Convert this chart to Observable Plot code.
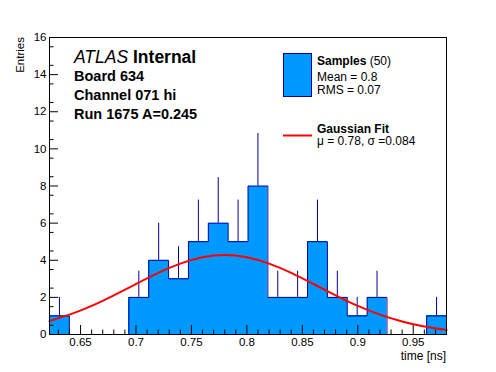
<!DOCTYPE html>
<html>
<head>
<meta charset="utf-8">
<script src="https://cdn.jsdelivr.net/npm/d3@7"></script>
<script src="https://cdn.jsdelivr.net/npm/@observablehq/plot@0.6"></script>
<style>
  html, body { margin: 0; padding: 0; background: #fff; }
  #chart svg { display: block; }
</style>
</head>
<body>
<div id="chart"></div>
<script>
// ---------- data ----------
const xMin = 0.622, xMax = 0.980, nBins = 20;
const counts = [1, 0, 0, 0, 2, 4, 3, 5, 6, 5, 8, 2, 2, 5, 2, 1, 2, 0, 0, 1];
const errors = [1, 0, 0, 0, 1.41, 2, 1.73, 2.24, 2.45, 2.24, 2.83, 1.41, 1.41, 2.24, 1.41, 1, 1.41, 0, 0, 1];
const fitX = [0.622, 0.64, 0.66, 0.68, 0.70, 0.72, 0.74, 0.76, 0.78, 0.80, 0.82, 0.84, 0.86, 0.88, 0.90, 0.92, 0.94, 0.96, 0.98];
const fitY = [0.73, 1.07, 1.54, 2.11, 2.72, 3.32, 3.82, 4.16, 4.28, 4.16, 3.82, 3.32, 2.72, 2.11, 1.54, 1.07, 0.70, 0.43, 0.25];
const majorX = [0.65, 0.7, 0.75, 0.8, 0.85, 0.9, 0.95];
const majorXLabels = ["0.65", "0.7", "0.75", "0.8", "0.85", "0.9", "0.95"];
const majorY = [0, 2, 4, 6, 8, 10, 12, 14, 16];
const annotations = ["Board 634", "Channel 071 hi", "Run 1675 A=0.245"];
const legendSamples = ["Mean = 0.8", "RMS = 0.07"];
const legendFit = "\u03bc = 0.78, \u03c3 =0.084";

// ---------- derived structures ----------
const bw = (xMax - xMin) / nBins;
const bins = counts.map((c, i) => ({x1: xMin + i * bw, x2: xMin + (i + 1) * bw, c, e: errors[i]}));
const stepPts = [{x: xMin, y: 0}, ...bins.map(b => ({x: b.x1, y: b.c})), {x: xMax, y: counts[nBins - 1]}, {x: xMax, y: 0}];
const fit = fitX.map((x, i) => ({x, y: fitY[i]}));
const minorX = d3.range(63, 99).map(i => i / 100).filter(v => !majorX.some(m => Math.abs(m - v) < 1e-9));
const minorY = d3.range(1, 32, 2).map(i => i / 2);

const W = 496, H = 372, mL = 49, mR = 50, mT = 37, mB = 38;
const innerW = W - mL - mR, innerH = H - mT - mB;
const FONT = "'Liberation Sans', Arial, Helvetica, sans-serif";
const FILL = "#0099ff", EDGE = "#000099";

const plot = Plot.plot({
  width: W, height: H,
  marginLeft: mL, marginRight: mR, marginTop: mT, marginBottom: mB,
  style: {fontFamily: FONT, background: "white"},
  x: {domain: [xMin, xMax], axis: null},
  y: {domain: [0, 16], axis: null},
  marks: [
    Plot.rectY(bins, {x1: "x1", x2: "x2", y: "c", fill: FILL, inset: 0, shapeRendering: "crispEdges"}),
    Plot.line(stepPts, {x: "x", y: "y", curve: "step-after", stroke: EDGE, strokeWidth: 1}),
    Plot.ruleX(bins.filter(b => b.c > 0), {x: d => (d.x1 + d.x2) / 2, y1: "c", y2: d => d.c + d.e, stroke: EDGE, strokeWidth: 1}),
    Plot.line(fit, {x: "x", y: "y", curve: "natural", stroke: "#ff0000", strokeWidth: 2}),
    // inward ticks
    Plot.ruleX(majorX, {x: d => d, insetTop: innerH - 9, stroke: "black"}),
    Plot.ruleX(minorX, {x: d => d, insetTop: innerH - 4.5, stroke: "black"}),
    Plot.ruleY(majorY, {y: d => d, insetRight: innerW - 9, stroke: "black"}),
    Plot.ruleY(minorY, {y: d => d, insetRight: innerW - 4.5, stroke: "black"}),
    // tick labels
    Plot.text(majorX, {x: d => d, text: (d, i) => majorXLabels[i], frameAnchor: "bottom", lineAnchor: "top", dy: 3, fontSize: 11.5, fill: "black"}),
    Plot.text(majorY, {y: d => d, text: d => String(d), frameAnchor: "left", textAnchor: "end", dx: -3, fontSize: 11.5, fill: "black"}),
    Plot.frame({stroke: "black"})
  ]
});

const svg = d3.select(plot);
function txt(x, y, size, anchor = "start") {
  return svg.append("text").attr("x", x).attr("y", y).attr("font-size", size)
    .attr("font-family", FONT).attr("text-anchor", anchor).attr("fill", "black");
}
// axis titles
svg.append("text").attr("transform", "translate(23.5,37) rotate(-90)")
  .attr("text-anchor", "end").attr("font-size", 11.5).attr("font-family", FONT).text("Entries");
txt(446, 359.5, 12, "end").text("time [ns]");

// ATLAS annotation
const t0 = txt(74, 63, 17.5);
t0.append("tspan").attr("font-style", "italic").text("ATLAS");
t0.append("tspan").attr("font-weight", "bold").text(" Internal");
annotations.forEach((s, i) => {
  txt(74, [81, 100, 119][i], 14.5).attr("font-weight", "bold").text(s);
});

// legend
svg.append("rect").attr("x", 283.5).attr("y", 53.5).attr("width", 28).attr("height", 43)
  .attr("fill", FILL).attr("stroke", EDGE);
const l0 = txt(317, 65, 12);
l0.append("tspan").attr("font-weight", "bold").text("Samples");
l0.append("tspan").text(" (50)");
legendSamples.forEach((s, i) => {
  txt(317, [81, 93.5][i], 12).text(s);
});
svg.append("line").attr("x1", 283).attr("x2", 312).attr("y1", 135.5).attr("y2", 135.5)
  .attr("stroke", "#ff0000").attr("stroke-width", 2);
txt(317, 132.5, 12).attr("font-weight", "bold").text("Gaussian Fit");
txt(317, 145, 12).text(legendFit);

document.getElementById("chart").appendChild(plot);
</script>
</body>
</html>
